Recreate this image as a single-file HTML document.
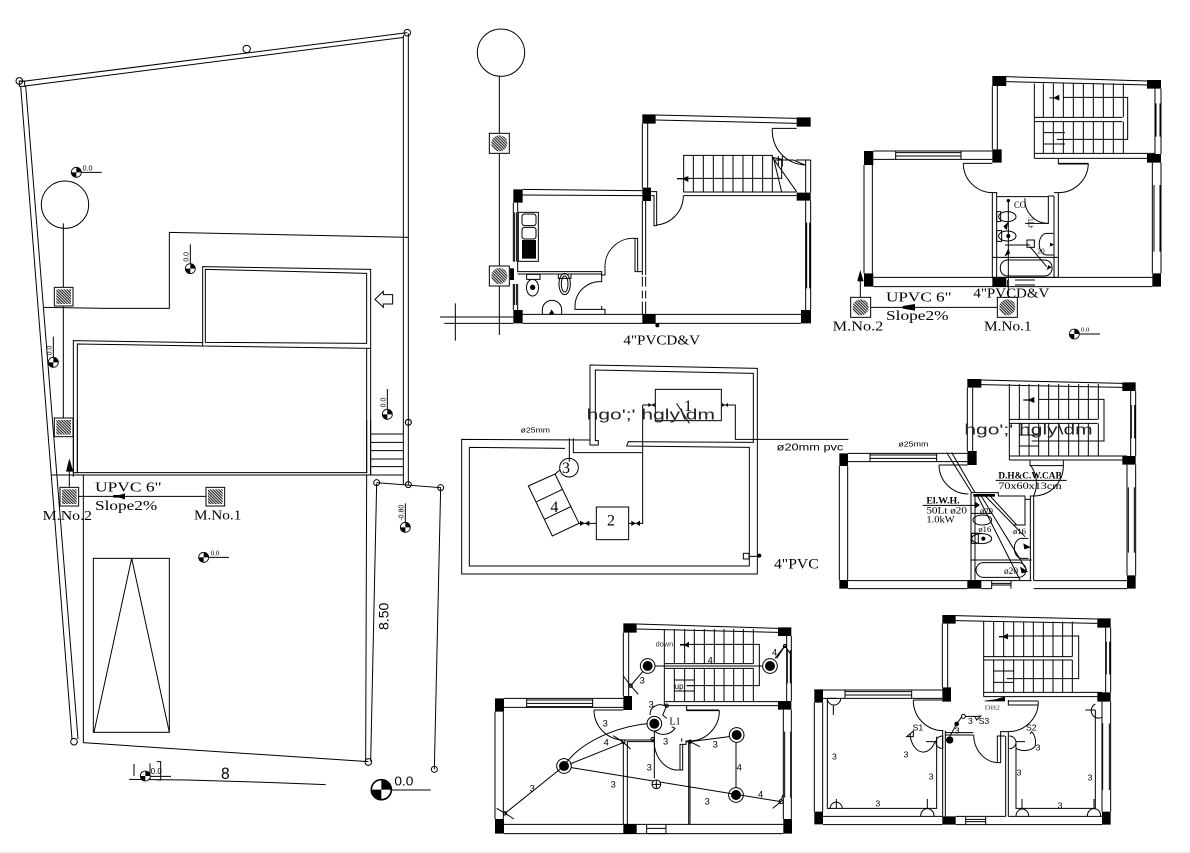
<!DOCTYPE html>
<html><head><meta charset="utf-8"><style>
html,body{margin:0;padding:0;background:#fff;width:1190px;height:853px;overflow:hidden}
svg{display:block}
.l{fill:none;stroke:#000;stroke-width:3}
.t{fill:#000;stroke:none;font-family:"Liberation Serif",serif}
.s{fill:#000;stroke:none;font-family:"Liberation Sans",sans-serif}
.k{fill:#000;stroke:none}
</style></head><body>
<svg width="1190" height="853" viewBox="0 0 1190 853" xmlns="http://www.w3.org/2000/svg">
<defs>
<pattern id="h" width="6" height="6" patternUnits="userSpaceOnUse" patternTransform="rotate(45)"><rect width="6" height="6" fill="#fff"/><rect width="6" height="3.4" fill="#222"/></pattern>
<g id="mh"><rect x="0" y="0" width="56" height="56" fill="#fff" stroke="#000" stroke-width="3"/><rect x="6" y="6" width="44" height="44" fill="url(#h)"/></g>
<g id="mc"><rect x="0" y="0" width="60" height="60" fill="#fff" stroke="#000" stroke-width="3"/><circle cx="30" cy="30" r="24" fill="url(#h)"/></g>
<g id="lv"><circle r="15" fill="#fff" stroke="#000" stroke-width="2.5"/><path fill="#000" d="M0 0V-15A15 15 0 0 1 15 0ZM0 0V15A15 15 0 0 1-15 0Z"/></g>
<g id="lamp"><circle r="22" fill="#fff" stroke="#000" stroke-width="3"/><circle r="15" fill="#000"/></g>
</defs>
<rect width="1190" height="853" fill="#fff"/>
<rect y="851" width="1190" height="2" fill="#f4f4f4"/>

<!-- SITE PLAN top -->
<g transform="scale(.33333)">
<path class="l" d="M62 245L1222 98M75 258L1212 112M62 258L216 2217M77 258L234 2217M1210 105V1455M1225 100V1455"/>
<circle class="l" cx="58" cy="243" r="10"/><circle class="l" cx="740" cy="147" r="11"/><circle class="l" cx="1222" cy="98" r="10"/><circle class="l" cx="1225" cy="1267" r="9"/>
<rect x="58" y="243" width="16" height="16" class="l"/>
<circle class="l" cx="195" cy="614" r="71"/>
<path class="l" d="M190 670V1265M132 922L320 925H508V697L1225 712"/>
<use href="#mh" x="163" y="862"/><use href="#mh" x="163" y="1254"/>
<path class="l" d="M608 800L1112 808V1045L608 1038ZM616 808L1100 820V1030L616 1027Z"/>
<path class="l" d="M220 1430V1022L608 1028M232 1420V1032L608 1038M1100 1045V1420M1112 1045V1425"/>
<path class="l" d="M1125 898L1150 874V884H1178V912H1150V922Z" stroke-width="2.5"/>
<use href="#lv" x="229" y="517"/><path class="l" d="M244 517H305" stroke-width="2"/>
<use href="#lv" x="571" y="806"/><path class="l" d="M571 790V733"/>
<use href="#lv" x="160" y="1087"/><path class="l" d="M160 1072V1010"/>
<use href="#lv" x="1162" y="1243"/><path class="l" d="M1162 1228V1167"/>
<text class="s" x="248" y="512" font-size="21">0.0</text>
<text class="s" transform="translate(566,785) rotate(-90)" font-size="21">0.0</text>
<text class="s" transform="translate(154,1066) rotate(-90)" font-size="21">0.0</text>
<text class="s" transform="translate(1157,1222) rotate(-90)" font-size="21">0.0</text>
</g>
<!-- SITE PLAN bottom -->
<g transform="translate(0,420) scale(.33333)">
<path class="l" d="M220 0V158H1100V0M232 0V158M155 165H1210M1112 42H1210M1112 67H1210M1112 92H1210M1112 117H1210M1112 140H1210M1112 0V165"/>
<path class="l" d="M250 165V968L1105 1025M1100 165L1097 1025M1130 190L1112 1025"/>
<path class="l" d="M1130 188L1322 203L1303 1048"/>
<circle class="l" cx="1130" cy="188" r="9"/><circle class="l" cx="1225" cy="194" r="9"/><circle class="l" cx="1322" cy="203" r="9"/><circle class="l" cx="1303" cy="1048" r="9"/><circle class="l" cx="1105" cy="1026" r="10"/><circle class="l" cx="222" cy="965" r="10"/><circle class="l" cx="1225" cy="7" r="9"/>
<path class="l" d="M208 200V140"/><path class="k" d="M208 115L198 155H220Z"/>
<use href="#mh" x="180" y="202"/><use href="#mh" x="618" y="202"/>
<path class="l" d="M236 229H618"/><path class="k" d="M340 225H358L375 220V238L358 233H340Z"/>
<text class="t" x="285" y="214" font-size="42" textLength="200" lengthAdjust="spacingAndGlyphs">UPVC  6"</text>
<text class="t" x="285" y="270" font-size="42" textLength="187" lengthAdjust="spacingAndGlyphs">Slope2%</text>
<text class="t" x="128" y="300" font-size="42" textLength="148" lengthAdjust="spacingAndGlyphs">M.No.2</text>
<text class="t" x="582" y="299" font-size="42" textLength="142" lengthAdjust="spacingAndGlyphs">M.No.1</text>
<rect class="l" x="280" y="415" width="228" height="522"/>
<path class="l" d="M395 415L282 937M395 415L508 937"/>
<use href="#lv" x="1216" y="322"/><path class="l" d="M1216 306V250"/>
<text class="s" transform="translate(1211,302) rotate(-90)" font-size="21">-0.80</text>
<use href="#lv" x="611" y="412"/><path class="l" d="M626 412H687" stroke-width="2"/>
<text class="t" x="632" y="406" font-size="21">0.0</text>
<path class="l" d="M387 1078L560 1080L800 1087L977 1094M402 1032V1068M425 1055V1078M450 1030V1078M470 1025H482V1080H470M430 1069H513"/>
<use href="#lv" x="436" y="1068"/>
<text class="s" x="452" y="1062" font-size="24">0.0</text>
<text class="s" x="663" y="1077" font-size="50" textLength="26" lengthAdjust="spacingAndGlyphs">8</text>
<text class="s" transform="translate(1166,630) rotate(-90)" font-size="42" textLength="82" lengthAdjust="spacingAndGlyphs">8.50</text>
<g transform="translate(1144,1109) scale(2)"><use href="#lv"/></g>
<path class="l" d="M1175 1110H1292"/>
<text class="s" x="1183" y="1097" font-size="40" textLength="57" lengthAdjust="spacingAndGlyphs">0.0</text>
</g>

<!-- GROUND PLAN -->
<g transform="translate(435,20) scale(.33333)">
<circle class="l" cx="198" cy="98" r="71"/>
<path class="l" d="M193 170V945M15 891H235M28 910H235M61 850V962"/>
<use href="#mc" x="163" y="340"/><use href="#mc" x="163" y="738"/>
<path class="k" d="M235 508h28v40h-28zM622 283h40v28h-40zM622 503h26v40h-26zM1085 292h42v28h-42zM1085 518h42v24h-42zM235 870h28v40h-28zM622 883h40v27h-40zM1098 870h30v40h-30z"/>
<path class="l" d="M662 285L1085 295M662 300L1085 310M622 311V503M638 311V503M263 508L622 512M263 525L622 527M622 543V765M632 543V765M622 770V800M632 770V800M622 812V835M632 812V835M622 845V883M632 845V883M235 548V725M248 548V755H500V765H510V745M235 792V870M248 792V870M248 762H500M263 883H1098M263 910H1098M1112 420V518M1127 420V518M1112 542V870M1127 542V870M1115 608V805M1124 608V805M1083 420H1127"/>
<path class="l" d="M746 406H1012V516H746ZM775 406V516M805 406V516M835 406V516M864 406V516M894 406V516M924 406V516M953 406V516M983 406V516M746 475H1040V418L1012 412M746 527H1085M746 516H1085M1012 412L1085 515M1015 412L1040 516M1030 408V440M1042 408V440M1018 420H1075L1110 435"/>
<path class="k" d="M726 474H745L760 468V486L745 478H726Z"/>
<path class="l" d="M1012 325H1085" stroke-width="5"/><path class="l" d="M1012 325A102 102 0 0 0 1112 435M745 527A88 88 0 0 1 665 615M648 515H665V617H657V527H648M510 745A85 85 0 0 1 600 655H608V755H622M600 655V755H622M420 858A75 75 0 0 1 500 785V762M420 858V868H510V883M500 858V868"/>
<rect class="l" x="250" y="577" width="60" height="147"/><rect class="k" x="261" y="660" width="42" height="56"/>
<rect class="l" x="261" y="582" width="42" height="35" rx="8"/><rect class="l" x="261" y="622" width="42" height="35" rx="8"/>
<path class="k" d="M225 745h12v35h-12z"/>
<path class="l" d="M238 577V725M244 577V725M238 792V855M244 792V855"/>
<path class="l" d="M275 763H315V778H275ZM292 778A18 25 0 1 0 293 828A18 25 0 1 0 292 778Z"/><circle class="k" cx="293" cy="802" r="8"/>
<ellipse class="l" cx="389" cy="792" rx="17" ry="32"/><ellipse class="l" cx="389" cy="792" rx="10" ry="24"/><path class="l" d="M370 762H408V775H370Z"/>
<path class="l" d="M322 882V870A29 29 0 0 1 380 870V882"/><path class="k" d="M342 882L350 868L358 882Z"/>
<circle class="k" cx="667" cy="916" r="6"/>
<text class="t" x="565" y="973" font-size="42" textLength="230" lengthAdjust="spacingAndGlyphs">4"PVCD&amp;V</text>
</g>

<!-- TANK PLAN -->
<g transform="translate(450,360) scale(.33333)">
<path class="l" d="M35 238L420 240V15L922 25V642H35ZM58 262L345 265M58 262V618H898V262L530 258L535 245L910 247V40L436 30V242H445V255H420V240M370 235V278H578M358 235V305"/>
<path class="l" d="M578 278V490H570M578 135V278M578 135H616M815 135H856V238H1195M536 490H570M387 490H439"/>
<rect class="l" x="616" y="88" width="198" height="94"/>
<rect class="l" x="439" y="441" width="97" height="98"/>
<circle class="l" cx="357" cy="323" r="28"/>
<path class="l" d="M235 378L315 342L387 490L307 528ZM260 425L338 388M283 478L362 440M315 342L330 330"/>
<path class="k" d="M390 482L404 490L390 498ZM418 482L404 490L418 498ZM544 482L557 490L544 498ZM570 482L557 490L570 498ZM595 129L605 135L595 141ZM614 129L605 135L614 141ZM816 129L825 135L816 141ZM834 129L825 135L834 141Z"/>
<rect class="l" x="880" y="580" width="17" height="17"/><path class="l" d="M897 589H928"/><circle class="k" cx="928" cy="587" r="6"/>
<path class="l" d="M680 130L718 190"/>
<text class="t" x="702" y="153" font-size="48">1</text>
<text class="t" x="471" y="497" font-size="48">2</text>
<text class="t" x="336" y="339" font-size="48">3</text>
<text class="t" x="301" y="456" font-size="48">4</text>
<text class="s" x="410" y="178" font-size="44" textLength="385" lengthAdjust="spacingAndGlyphs" style="fill:#222">hgo';' hgly\dm</text>
<text class="s" x="212" y="217" font-size="22" textLength="88" lengthAdjust="spacingAndGlyphs">ø25mm</text>
<text class="s" x="980" y="271" font-size="29" textLength="200" lengthAdjust="spacingAndGlyphs">ø20mm pvc</text>
<text class="t" x="972" y="625" font-size="44" textLength="134" lengthAdjust="spacingAndGlyphs">4"PVC</text>
</g>

<!-- PLAN 2 top-right -->
<g transform="translate(830,70) scale(.33333)">
<path class="k" d="M487 18h42v30h-42zM951 30h42v26h-42zM487 238h28v40h-28zM951 252h42v26h-42zM102 243h28v42h-28zM102 610h28v40h-28zM487 622h42v28h-42zM967 610h26v40h-26z"/>
<path class="l" d="M529 20L951 33M529 35L951 45M487 48V238M502 48V238M975 56V252M993 56V252M978 100V200M990 100V200M130 243H487M130 268H487M197 248H393M197 258H393M197 268H393M197 243V268M393 243V268M102 285V610M127 285V610M130 622H967M130 650H967M967 278V610M993 278V610M972 345V545M990 345V545"/>
<path class="l" d="M613 40V265M640 40V142M640 155V250M670 40V142M670 155V250M700 40V142M700 155V250M730 40V142M730 155V250M760 40V142M760 155V250M790 40V142M790 155V250M820 40V142M820 155V250M850 40V142M850 155V250M880 40V142M880 155V250M613 142H877M613 155H877M700 82H893V208H680M640 188H705M640 222H705M613 250H975M613 265H951"/>
<path class="k" d="M658 82H672L688 74V92L672 85H658Z"/>
<path class="l" d="M400 280H487M400 280A88 88 0 0 0 487 368V622M500 380V622M487 368H500V380H655V460H585M685 368V622M672 378V622M672 368H685M655 378H672"/>
<path class="l" d="M585 385A70 70 0 0 0 655 460M775 280H685V265M685 280V265M775 280A90 90 0 0 1 685 368"/>
<path class="l" d="M775 282H685" stroke-width="5"/>
<path class="l" d="M487 562H685M487 622H685"/>
<rect class="l" x="511" y="570" width="155" height="48" rx="22"/>
<path class="l" d="M535 392V682M525 525H600M600 530L650 590M555 630H615M555 645H615M533 630V650"/>
<rect class="l" x="591" y="510" width="22" height="22"/>
<circle class="k" cx="535" cy="392" r="5"/>
<ellipse class="l" cx="532" cy="440" rx="26" ry="15"/><ellipse class="l" cx="532" cy="498" rx="26" ry="15"/><circle class="k" cx="535" cy="498" r="6"/>
<path class="l" d="M500 425H512V455H500ZM500 482H515V514H500Z"/>
<path class="l" d="M670 490H650A22 32 0 0 0 650 555H670"/><path class="k" d="M660 518L672 524L660 530ZM523 560L535 535L540 550ZM655 585L665 592L650 600ZM520 470L535 455L530 480Z"/>
<text class="t" x="552" y="414" font-size="28" textLength="36" lengthAdjust="spacingAndGlyphs">CO</text>
<text class="t" transform="translate(610,474) rotate(-90)" font-size="24" textLength="32" lengthAdjust="spacingAndGlyphs">4"TU</text>
<text class="t" x="622" y="550" font-size="22">20</text>
<text class="t" x="430" y="683" font-size="42" textLength="228" lengthAdjust="spacingAndGlyphs">4"PVCD&amp;V</text>
<use href="#mc" x="62" y="682"/><use href="#mc" x="502" y="682"/>
<path class="l" d="M122 712H502M91 682V625"/>
<path class="k" d="M218 708L255 702V722L218 716ZM91 600L82 632H100Z"/><rect class="k" x="83" y="630" width="17" height="4"/>
<text class="t" x="168" y="694" font-size="42" textLength="197" lengthAdjust="spacingAndGlyphs">UPVC  6"</text>
<text class="t" x="168" y="750" font-size="42" textLength="188" lengthAdjust="spacingAndGlyphs">Slope2%</text>
<text class="t" x="8" y="781" font-size="42" textLength="152" lengthAdjust="spacingAndGlyphs">M.No.2</text>
<text class="t" x="462" y="781" font-size="42" textLength="143" lengthAdjust="spacingAndGlyphs">M.No.1</text>
<use href="#lv" x="733" y="792"/><path class="l" d="M748 792H810" stroke-width="2"/>
<text class="t" x="753" y="785" font-size="20">0.0</text>
</g>

<!-- PLAN 4 middle-right -->
<g transform="translate(835,370) scale(.33333)">
<path class="k" d="M397 27h42v26h-42zM862 37h40v26h-40zM397 243h28v42h-28zM862 258h40v26h-40zM13 250h26v38h-26zM13 630h26v26h-26zM397 630h42v26h-42zM876 616h26v40h-26z"/>
<path class="l" d="M439 30L862 40M439 44L862 52M397 53V243M413 53V243M887 63V258M902 63V258M889 105V205M899 105V205M39 250H397M39 275H397M105 255H305M105 265H305M105 250V275M305 250V275M13 288V630M38 288V630M39 632H397M39 656H397M439 632H590M596 632H876M596 656H876M439 656H470M876 284V616M902 284V616M880 352V548M898 352V548"/>
<path class="l" d="M523 42V270M553 42V148M553 160V258M582 42V148M582 160V258M611 42V148M611 160V258M641 42V148M641 160V258M671 42V148M671 160V258M701 42V148M701 160V258M731 42V148M731 160V258M760 42V148M760 160V258M790 42V148M790 160V258M523 148H788M523 160H788M610 88H807V213H590M553 195H612M553 228H612M523 258H876M523 270H862"/>
<path class="k" d="M565 88H582L598 81V99L582 92H565Z"/>
<path class="l" d="M312 285H397M312 285A88 88 0 0 0 400 372M408 368V632M420 372V632M408 368H490V378H570V465H535M570 388H586V378H596V632M586 388V632M586 285A92 92 0 0 1 596 378"/>
<path class="l" d="M585 272V287H685V272M685 287A90 90 0 0 1 596 378M406 570H590M470 632V656M528 632V656M470 645H528M470 640H528" />
<rect class="l" x="423" y="578" width="150" height="44" rx="22"/>
<path class="l" d="M335 248L410 368M350 248L420 368M263 406H420M425 372L555 630M435 372L575 600M445 372L570 500M460 372L545 465"/>
<rect class="k" x="415" y="372" width="65" height="8"/>
<path class="l" d="M408 430H470M408 490H440"/>
<ellipse class="l" cx="442" cy="450" rx="28" ry="15"/><ellipse class="l" cx="440" cy="506" rx="30" ry="15"/><rect class="l" x="410" y="490" width="20" height="30"/><circle class="k" cx="445" cy="506" r="6"/>
<path class="l" d="M580 505H560A22 30 0 0 0 560 565H580"/><path class="k" d="M565 520L588 532L568 538ZM555 590L580 605L560 610ZM420 395L435 405L420 415Z"/>
<path class="l" d="M482 331H695" />
<text class="s" x="388" y="193" font-size="44" textLength="385" lengthAdjust="spacingAndGlyphs" style="fill:#222">hgo';' hgly\dm</text>
<text class="s" x="190" y="230" font-size="23" textLength="90" lengthAdjust="spacingAndGlyphs">ø25mm</text>
<text class="t" x="490" y="325" font-size="28" font-weight="bold" textLength="190" lengthAdjust="spacingAndGlyphs">D.H&amp;C.W.CAB</text>
<text class="t" x="490" y="357" font-size="28" textLength="190" lengthAdjust="spacingAndGlyphs">70x60x13cm</text>
<text class="t" x="274" y="401" font-size="28" font-weight="bold" textLength="100" lengthAdjust="spacingAndGlyphs">El.W.H.</text>
<text class="t" x="274" y="430" font-size="28" textLength="122" lengthAdjust="spacingAndGlyphs">50Lt ø20</text>
<text class="t" x="274" y="458" font-size="28" textLength="85" lengthAdjust="spacingAndGlyphs">1.0kW</text>
<text class="t" x="430" y="486" font-size="26">ø16</text>
<text class="t" x="534" y="492" font-size="26">ø16</text>
<text class="t" x="435" y="430" font-size="26">ø20</text>
<text class="t" x="507" y="612" font-size="28">ø20</text>
</g>

<!-- PLAN 5 bottom-middle -->
<g transform="translate(490,615) scale(.33333)">
<path class="k" d="M400 25h40v28h-40zM864 37h40v26h-40zM400 243h26v42h-26zM864 258h40v26h-40zM15 250h27v40h-27zM15 612h27v44h-27zM400 628h40v28h-40zM880 612h26v44h-26z"/>
<path class="l" d="M440 27L864 40M440 42L864 52M400 53V243M416 53V243M890 63V258M904 63V258M892 105V205M901 105V205M42 250H400M42 277H400M110 255H308M110 265H308M110 275H308M110 250V277M308 250V277M15 290V612M40 290V612M42 628H880M42 656H880M880 284V612M904 284V612M884 350V548M902 350V548"/>
<path class="l" d="M523 42V270M553 42V146M553 160V258M584 42V146M584 160V258M613 42V146M613 160V258M643 42V146M643 160V258M673 42V146M673 160V258M702 42V146M702 160V258M731 42V146M731 160V258M760 42V146M760 160V258M790 42V146M790 160V258M523 146H790M523 153H790M523 160H790M570 88H808V212H590M553 195H612M553 228H612M523 260H864M523 272H864"/>
<path class="k" d="M570 88H585L597 80V98L585 92H570Z"/>
<path class="l" d="M312 285H400M312 285A90 90 0 0 0 400 375M400 375H490V380H412V628M400 380V628M588 380H600V628M596 380V628M570 465V388H588V378H600M578 388V465H555A75 85 0 0 1 493 375M590 272V287H688M688 287A90 90 0 0 1 600 378"/>
<path class="l" d="M590 285H688" stroke-width="5"/>
<path class="l" d="M470 628V656H528V628M470 640H528"/>
<use href="#lamp" x="473" y="153"/><use href="#lamp" x="840" y="153"/><use href="#lamp" x="493" y="326"/><use href="#lamp" x="222" y="453"/><use href="#lamp" x="740" y="360"/><use href="#lamp" x="738" y="540"/>
<path class="l" d="M495 153H818M860 130L885 92L900 115M855 130L885 92M458 170L422 212L400 183M422 212L445 238"/>
<path class="l" d="M473 326C380 335 270 380 222 453M240 447L402 382M45 595L222 453M45 595L72 612M20 580L45 595M244 458L873 560M848 580L873 560M873 560L878 540"/>
<path class="l" d="M738 382V518M600 380L718 365M600 380L630 395M400 382L370 362M400 382L422 402M493 348V490M488 372L493 375"/>
<circle class="l" cx="499" cy="508" r="13" style="fill:#fff"/><path class="l" d="M486 508H512M499 495V521"/>
<path class="l" d="M480 300A30 30 0 0 1 523 272M493 348A42 42 0 0 0 555 340L545 335M530 272L518 300L530 310M575 380V370"/>
<circle class="l" cx="530" cy="272" r="5"/><circle class="l" cx="400" cy="380" r="5"/><circle class="l" cx="488" cy="372" r="5"/><circle class="l" cx="600" cy="380" r="5"/><circle class="l" cx="45" cy="595" r="5"/><circle class="l" cx="873" cy="560" r="6"/><circle class="l" cx="885" cy="93" r="5"/><circle class="l" cx="422" cy="212" r="5"/>
<text class="s" x="497" y="95" font-size="22" style="fill:#333">down</text>
<text class="s" x="554" y="222" font-size="24">up</text>
<path class="l" d="M590 212H612"/>
<text class="t" x="538" y="328" font-size="30" textLength="34" lengthAdjust="spacingAndGlyphs">L1</text>
<text x="653" y="146" class="s" font-size="28">4</text><text x="846" y="122" class="s" font-size="28">4</text><text x="449" y="206" class="s" font-size="28">3</text><text x="476" y="278" class="s" font-size="28">3</text><text x="338" y="335" class="s" font-size="28">3</text><text x="341" y="392" class="s" font-size="28">4</text><text x="519" y="388" class="s" font-size="28">3</text><text x="668" y="398" class="s" font-size="28">3</text><text x="740" y="467" class="s" font-size="28">4</text><text x="470" y="466" class="s" font-size="28">3</text><text x="362" y="517" class="s" font-size="28">3</text><text x="119" y="530" class="s" font-size="28">3</text><text x="644" y="568" class="s" font-size="28">3</text><text x="804" y="548" class="s" font-size="28">4</text>
</g>

<!-- PLAN 6 bottom-right -->
<g transform="translate(810,610) scale(.33333)">
<path class="k" d="M397 15h40v26h-40zM862 25h40v28h-40zM397 232h26v43h-26zM862 247h40v28h-40zM13 238h26v40h-26zM13 605h26v38h-26zM397 619h40v25h-40zM876 605h26v39h-26z"/>
<path class="l" d="M437 17L862 27M437 32L862 40M397 41V232M413 41V232M887 53V247M902 53V247M889 95V193M899 95V193M39 240H397M39 265H397M105 245H305M105 255H305M105 240V265M305 240V265M13 278V605M38 278V605M39 619H397M39 644H397M437 619H587M595 619H876M595 644H876M437 644H467M527 644H876M876 275V605M902 275V605M878 340V540M898 340V540"/>
<path class="l" d="M521 35V260M551 35V140M551 150V247M581 35V140M581 150V247M611 35V140M611 150V247M641 35V140M641 150V247M670 35V140M670 150V247M700 35V140M700 150V247M729 35V140M729 150V247M758 35V140M758 150V247M787 35V140M787 150V247M521 140H787M521 150H787M581 78H806V206H590M551 183H610M551 217H610M521 247H876M521 260H862"/>
<path class="k" d="M567 78H580L594 70V88L580 82H567Z"/>
<path class="l" d="M310 270H397M310 270A90 90 0 0 0 400 362M398 362V619M406 362V619M406 368H490M406 375H490M587 378V619M595 365V619M595 365H572V458H562M562 458V378H585M572 378V458M562 458A75 85 0 0 1 491 375M595 270V285H685M685 275A90 90 0 0 1 595 365"/>
<path class="l" d="M595 273H685" stroke-width="5"/>
<path class="l" d="M467 619V644H527V619M467 628H527M467 635H527"/>
<path class="k" d="M524 272L555 268L585 260V274H524Z"/>
<path class="l" d="M52 265V595H380V380M618 395V595H856V300M52 265H80"/>
<path class="l" d="M52 265A19 19 0 0 0 92 265M70 284V315M60 597A18 20 0 0 1 97 597M79 567V597M332 618A18 20 0 0 1 372 618M352 567V597M618 618A18 20 0 0 1 656 618M636 567V597M832 618A18 20 0 0 1 872 618M852 567V597M856 282A20 20 0 0 0 876 322M826 300H856M378 395A18 18 0 0 1 398 378V415A18 18 0 0 1 378 395M348 395H378M598 378A20 20 0 0 1 618 398A20 20 0 0 1 598 416M618 395H645"/>
<path class="l" d="M300 370A40 60 0 0 0 375 395M618 415A40 30 0 0 0 675 410A30 40 0 0 0 665 365L660 372M290 380L310 363V380ZM495 320L512 318L500 330Z"/>
<circle class="k" cx="419" cy="390" r="11"/><circle class="k" cx="440" cy="342" r="7"/><circle class="l" cx="460" cy="319" r="6"/>
<path class="l" d="M419 380L440 342L454 322M466 319H500"/>
<text class="t" x="524" y="299" font-size="20" style="fill:#444" textLength="46" lengthAdjust="spacingAndGlyphs">DB2</text>
<text class="s" x="506" y="342" font-size="26">S3</text>
<text class="s" x="308" y="362" font-size="26">S1</text>
<text class="s" x="648" y="362" font-size="26">S2</text>
<text class="s" x="474" y="342" font-size="26">3</text>
<text class="s" x="434" y="370" font-size="26">3</text>
<text class="s" x="66" y="448" font-size="26">3</text><text class="s" x="281" y="443" font-size="26">3</text><text class="s" x="356" y="508" font-size="26">3</text><text class="s" x="196" y="589" font-size="26">3</text><text class="s" x="677" y="421" font-size="26">3</text><text class="s" x="620" y="496" font-size="26">3</text><text class="s" x="833" y="512" font-size="26">3</text><text class="s" x="743" y="595" font-size="26">3</text>
</g>
</svg>
</body></html>
